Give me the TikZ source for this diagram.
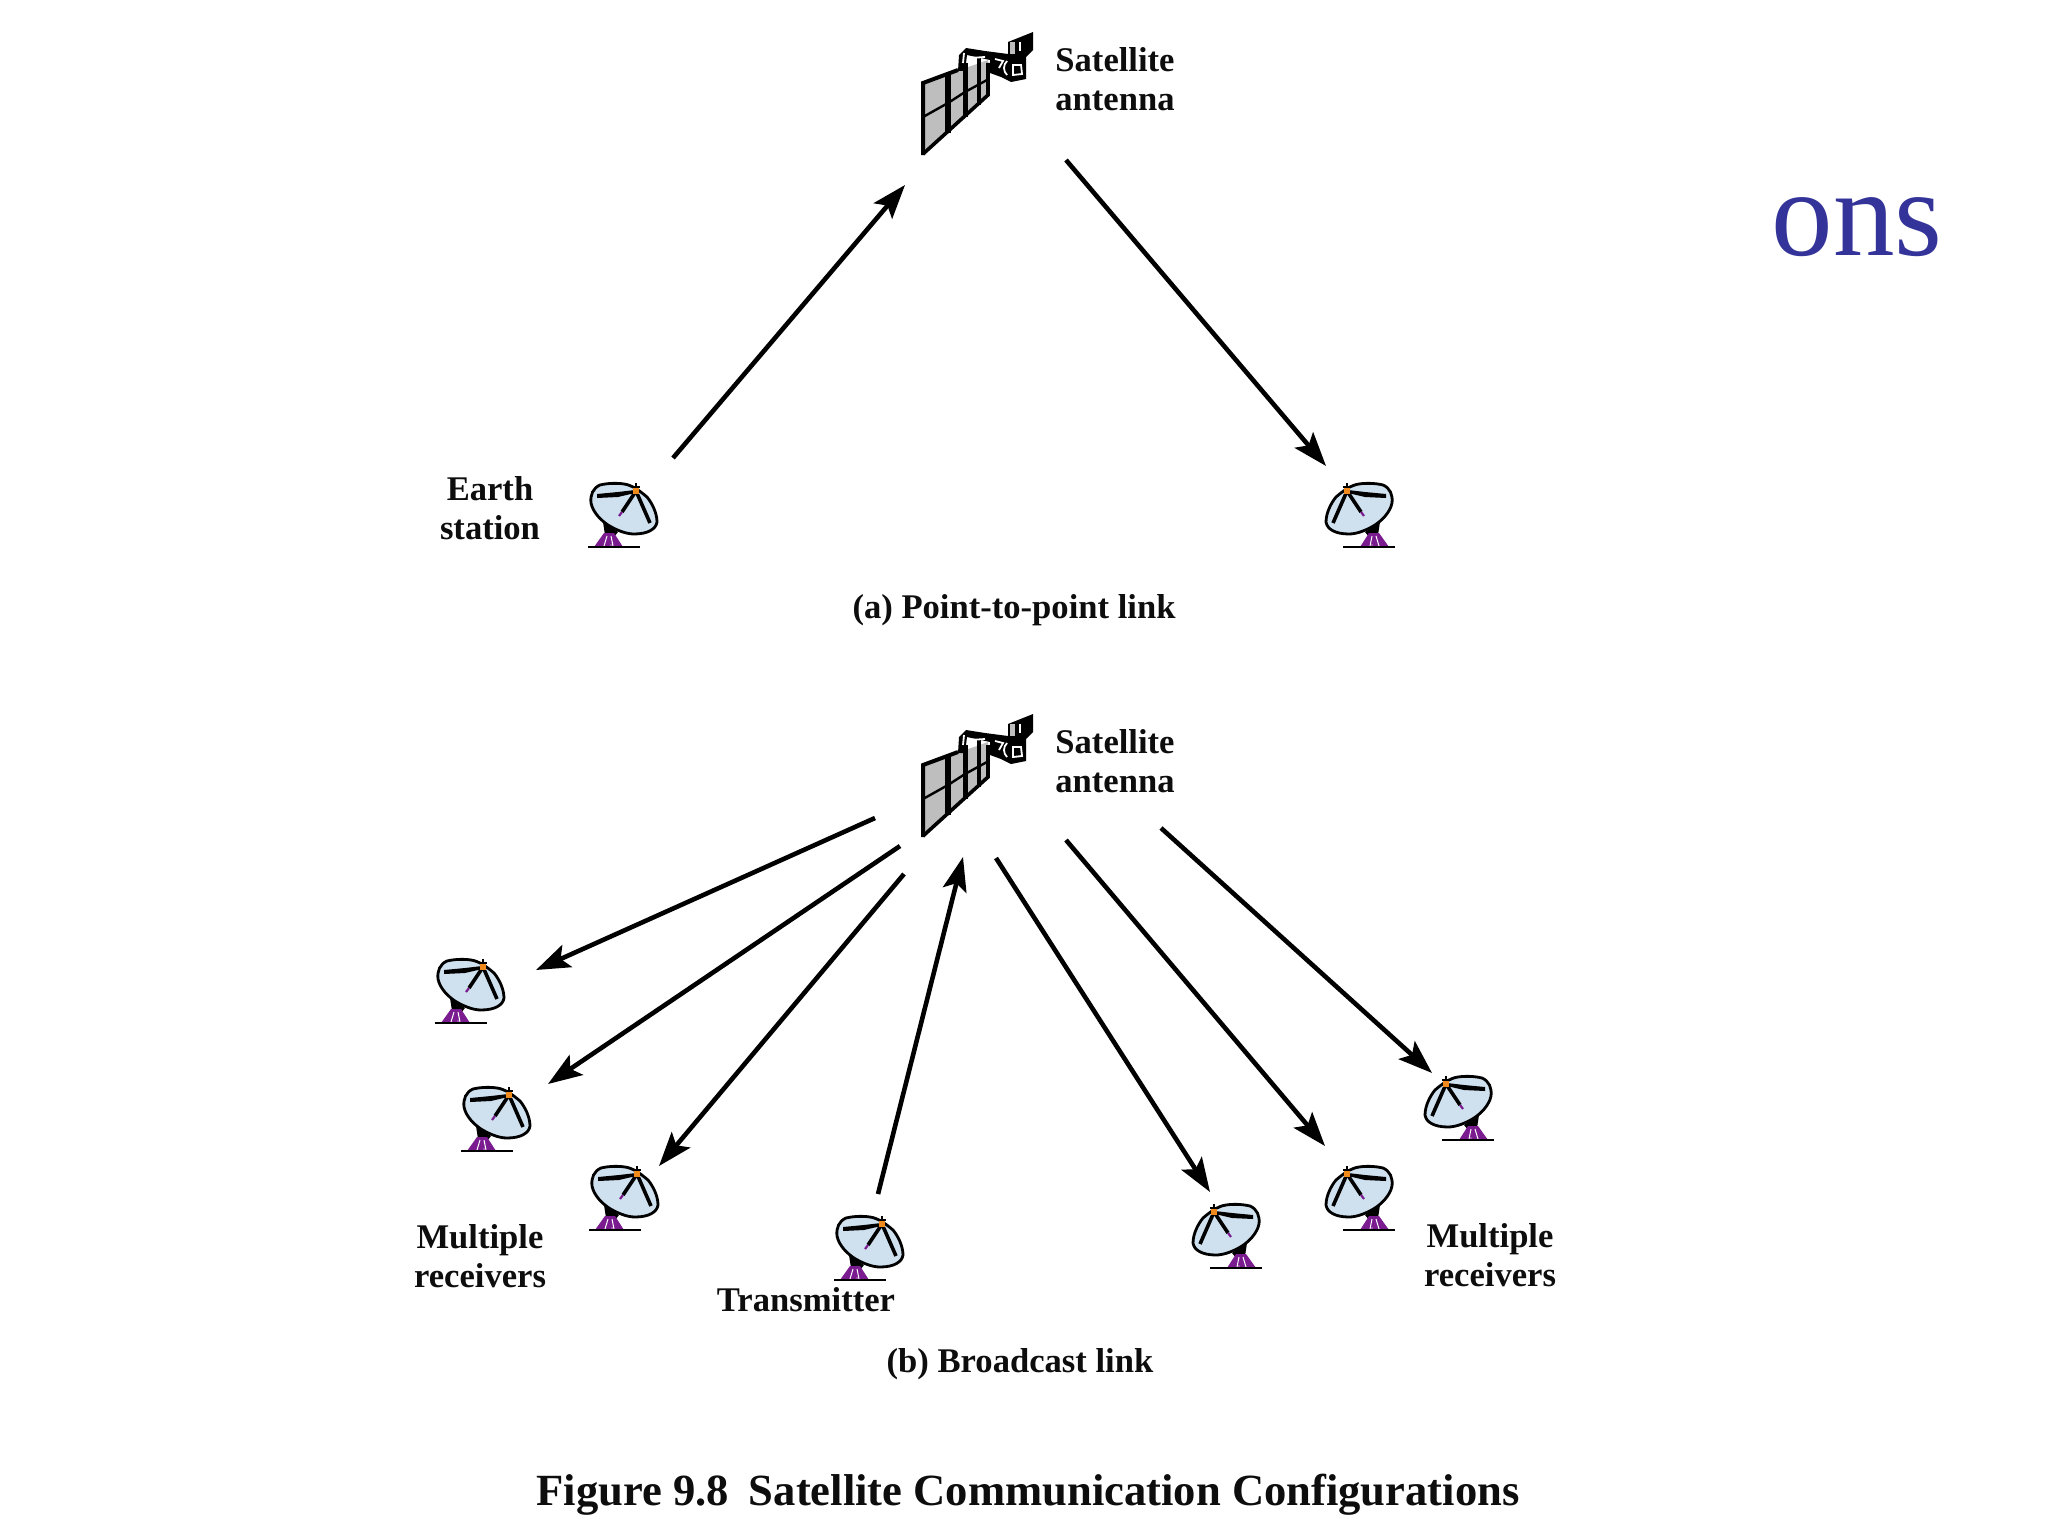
\documentclass[tikz,border=0pt]{standalone}
\usepackage{fontspec}
\setmainfont{Liberation Serif}
\usetikzlibrary{arrows.meta}
\definecolor{dishblue}{HTML}{CFE1EE}
\definecolor{mountpurple}{HTML}{7A1B8F}
\definecolor{feedorange}{HTML}{F08A1D}
\definecolor{slidenavy}{HTML}{333399}
\definecolor{panelgrey}{HTML}{BEBEBE}
\tikzset{
  x=0.5pt,y=-0.5pt,
  link/.style={line width=2.3pt,-{Stealth[length=17pt,width=12pt,inset=3.5pt]},line cap=butt},
  lab/.style={font=\bfseries\fontsize{17.3}{19.4}\selectfont,inner sep=0pt,align=center,text=black!95},
  single/.style={font=\bfseries\fontsize{17.3}{19.4}\selectfont,inner sep=0pt,anchor=base,text=black!95},
  dish/.pic={
    \draw[line width=1.4pt,fill=dishblue]
      (12,-62) .. controls (20,-64) and (30,-64) .. (36,-63)
      .. controls (44,-62) and (52,-56) .. (59,-50)
      .. controls (64,-44) and (69,-34) .. (69,-25)
      .. controls (68,-18) and (60,-13) .. (46,-13)
      .. controls (38,-13) and (28,-17) .. (20,-22)
      .. controls (14,-26) and (5,-34) .. (3,-44)
      .. controls (2,-52) and (5,-59) .. (12,-62) -- cycle;
    \fill[black] (9,-53) -- (30,-55) -- (47,-57) -- (47,-54) -- (30,-50) -- (9,-49) -- cycle;
    \draw[line width=1.8pt] (48,-56) -- (34,-35);
    \draw[line width=1.1pt,mountpurple] (34,-35) -- (31,-31);
    \draw[line width=1.8pt] (48,-56) -- (62,-24);
    \fill[feedorange] (45,-60) rectangle (51,-53);
    \draw[line width=.9pt] (44,-60) -- (52,-60) (48,-64) -- (48,-60);
    \fill[black] (15,-25) -- (30,-15) -- (26,-10) -- (17,-12) -- cycle;
    \fill[mountpurple] (6,0) -- (16,-14) -- (26,-14) -- (35,0) -- cycle;
    \draw[white,line width=.5pt] (16,-1) -- (19,-11) (25,-1) -- (23,-11);
    \fill[white] (23,-2) circle (.7);
    \draw[line width=1.3pt] (0,0) -- (52,0);
  },
  satellite/.pic={
    \fill[panelgrey] (0,-72) -- (65,-95) -- (65,-60) -- (0,-2) -- cycle;
    \draw[line width=2pt] (0,0) -- (0,-72) -- (35,-85);
    \draw[line width=1.8pt] (0,-1) -- (65,-60) -- (65,-92);
    \draw[line width=2.8pt] (25,-80) -- (25,-22);
    \draw[line width=2.5pt] (42,-92) -- (42,-38);
    \draw[line width=1.6pt] (56,-98) -- (56,-50);
    \draw[line width=1.2pt] (0,-38) -- (25,-52) -- (42,-63) -- (64,-75);
    \fill[black] (35,-84) -- (36,-100) -- (43,-107) -- (62,-104) -- (85,-101)
       -- (85,-113) -- (110,-123) -- (110,-105) -- (103,-98) -- (103,-76)
       -- (88,-73) -- (78,-78) -- (67,-82) -- (67,-95) -- (44,-100) -- (42,-84) -- cycle;
    \fill[panelgrey] (87,-113) rectangle (92,-101);
    \draw[white,line width=.9pt] (72,-96) -- (80,-94) -- (76,-87);
    \draw[white,line width=.9pt] (84,-94) .. controls (80,-90) and (80,-84) .. (84,-80);
    \draw[white,line width=.9pt] (90,-90) -- (98,-90) -- (99,-81) -- (90,-80) -- cycle;
    \draw[white,line width=.9pt] (47,-97) -- (62,-98);
    \draw[white,line width=.9pt] (41,-102) -- (40,-92);
    \draw[white,line width=.7pt] (97,-113) -- (97,-104);
  }
}
\begin{document}
\begin{tikzpicture}
\useasboundingbox (0,0) rectangle (2048,1536);
% slide fragment
\node[inner sep=0pt,anchor=base,text=slidenavy,font=\fontsize{61.5}{64}\selectfont] (frag) at (1857,255) {ons};

% part (a)
\pic (sata) at (923,155) {satellite};
\node[lab] (sata-lab) at (1115,79) {Satellite\\antenna};
\pic (earth) at (588,547) {dish};
\pic[xscale=-1] (recv) at (1395,547) {dish};
\node[lab] (earth-lab) at (490,508) {Earth\\station};
\node[single] (a-cap) at (1014,618) {(a) Point-to-point link};
\coordinate (a1s) at (673,458); \coordinate (a1e) at (905,185);
\coordinate (a2s) at (1066,160); \coordinate (a2e) at (1326,466);
\draw[link] (a1s) -- (a1e);
\draw[link] (a2s) -- (a2e);

% part (b)
\pic (satb) at (923,837) {satellite};
\node[lab] (satb-lab) at (1115,761) {Satellite\\antenna};
\pic (r1) at (435,1023) {dish};
\pic (r2) at (461,1151) {dish};
\pic (r3) at (589,1230) {dish};
\pic (tx) at (834,1280) {dish};
\pic[xscale=-1] (r4) at (1262,1268) {dish};
\pic[xscale=-1] (r5) at (1395,1230) {dish};
\pic[xscale=-1] (r6) at (1494,1140) {dish};
\node[lab] (mr-left) at (480,1256) {Multiple\\receivers};
\node[lab] (mr-right) at (1490,1255) {Multiple\\receivers};
\node[single] (tx-lab) at (806,1311) {Transmitter};
\node[single] (b-cap) at (1020,1372) {(b) Broadcast link};
\coordinate (b1s) at (875,818);  \coordinate (b1e) at (536,970);
\coordinate (b2s) at (900,846);  \coordinate (b2e) at (548,1084);
\coordinate (b3s) at (904,874);  \coordinate (b3e) at (659,1166);
\coordinate (b4s) at (878,1194); \coordinate (b4e) at (963,857);
\coordinate (b5s) at (996,858);  \coordinate (b5e) at (1210,1192);
\coordinate (b6s) at (1066,840); \coordinate (b6e) at (1325,1146);
\coordinate (b7s) at (1161,828); \coordinate (b7e) at (1432,1073);
\foreach \n in {1,...,7}{\draw[link] (b\n s) -- (b\n e);}

% figure caption
\node[inner sep=0pt,anchor=base,font=\bfseries\fontsize{22.3}{26}\selectfont,text=black!95] (fig-cap) at (1028,1505) {Figure 9.8\hspace{0.2em} Satellite Communication Configurations};
\end{tikzpicture}
\end{document}
